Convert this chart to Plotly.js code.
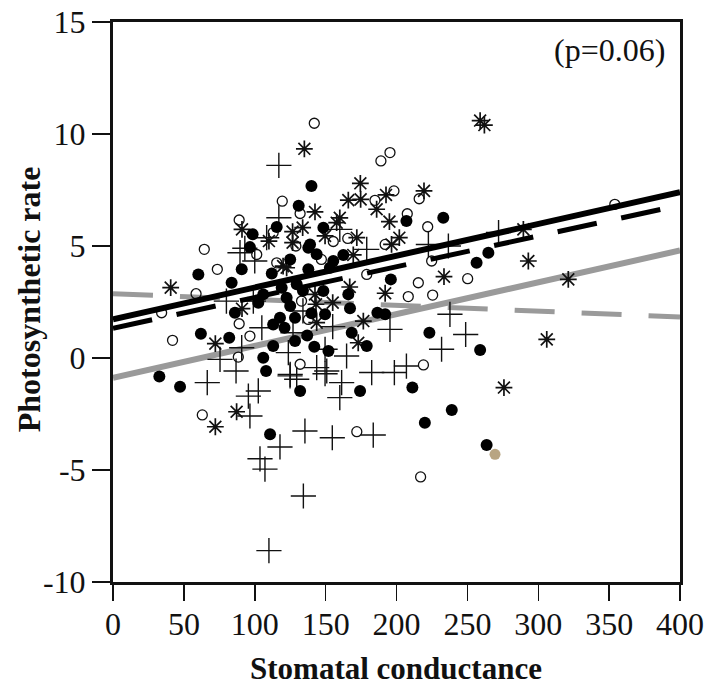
<!DOCTYPE html>
<html>
<head>
<meta charset="utf-8">
<script src="https://cdn.plot.ly/plotly-3.0.1.min.js"></script>
<style>html,body{margin:0;padding:0;background:#fff;}#chart{width:707px;height:686px;}</style>
</head>
<body>
<div id="chart"></div>
<script>
// Filled circles
const filledX = [32.7,47.3,62,60.2,83.7,90.8,86,82,96.6,98.5,115.5,131,140,108,110.8,132,102.5,113,125,125,128.4,106,112,137.8,153,148.4,129.6,119,149.6,117.8,121,113,106,122.5,128.4,152,148.4,137.8,143.7,155.4,139,162.5,207,233,264.8,256.5,196,166,167.2,186.5,192,223.2,168.4,179,259,174.3,211.2,239,220,263.6,134,140,137,142];
const filledY = [-0.83,-1.28,1.08,3.73,3.36,3.96,2.02,0.9,4.95,5.52,5.85,6.8,7.68,-0.58,-3.4,-1.47,2.47,1.5,4.4,2.32,0.76,0.01,3.77,3.96,4.03,2.99,3.29,3.14,1.95,1.8,1.35,0.54,2.84,2.69,1.8,0.31,5.82,4.92,4.63,4.33,5.07,4.6,6.12,6.26,4.7,4.25,3.51,2.84,2.22,2.02,1.95,1.13,1.13,0.54,0.36,-1.47,-1.32,-2.32,-2.89,-3.88,3.0,2.0,1.0,0.5];
// Single tan-coloured point
const tanX = [269.5];
const tanY = [-4.3];
// Open circles
const openX = [63,132,119.4,132,89,113,129,64.4,73.6,58.6,34.3,42,89,96.6,88.4,115.5,133,101.4,147,155.4,137.8,142,189,195.4,184.8,198.2,216,207.6,222,165.6,192,224.8,179,215.4,250.2,208.3,225.5,219,172,217,354];
const openY = [-2.54,-0.28,7.0,6.45,6.16,5.6,5.0,4.85,3.96,2.87,2.02,0.79,1.53,0.98,0.04,4.25,2.54,4.62,4.4,5.2,1.72,10.48,8.8,9.17,7.04,7.46,7.11,6.44,5.86,5.34,5.07,4.33,3.73,3.36,3.54,2.74,2.81,-0.31,-3.29,-5.31,6.86];
// Asterisks
const starX = [135,91,110,126.7,133.8,126.7,40.7,72.2,72.2,87.2,120,142.5,157.8,149.6,122.5,142.5,143.2,155,143.7,174.5,166,174.7,192.6,186,219.4,195,160,172,202,259,262,169.5,196.5,233.5,167,192,176.6,173,289.5,293,321.2,306,275.8,91];
const starY = [9.34,5.74,5.22,5.64,5.82,5.15,3.14,0.64,-3.07,-2.4,4.1,6.52,6.04,5.45,4.03,2.84,2.4,2.47,1.58,7.8,7.05,7.08,7.28,6.64,7.46,6.09,6.26,5.37,5.37,10.6,10.4,4.6,5.07,3.63,3.17,2.89,1.65,0.68,5.74,4.33,3.51,0.83,-1.32,2.2];
// Plus signs
const plusX = [117,117,108.4,93,89.6,100,80,90.8,75.5,86.8,105,125,66.5,95.5,102.5,96.6,117.8,103.7,107.2,124.9,129.6,135.4,134.3,110,99,127,134,123.7,143.7,150.8,155,160,179,222.5,236.6,237.7,248.8,231.8,195.4,164.8,149.6,182.5,198.5,207,160,161.3,149.6,154.7,183.6,272];
const plusY = [8.6,6.26,5.37,4.9,4.7,4.33,2.54,0.46,-0.06,-0.58,1.35,-0.73,-1.1,-1.7,-1.47,-2.59,-3.97,-4.5,-4.96,-0.8,-0.95,-3.26,-6.16,-8.6,2.54,1.13,2.1,0.24,-0.43,-0.58,1.4,5.74,4.85,5.07,5.0,1.95,1.05,0.39,1.28,0.09,0.39,-0.65,-0.65,-0.36,-1.77,-1.1,-0.7,-3.56,-3.44,5.6];
// Regression lines (end points)
const lineX = [0, 400];
const solidY = [1.73, 7.4];
const dashedY = [1.33, 6.82];
const grayRiseY = [-0.88, 4.8];
const grayFallY = [2.87, 1.83];
// Tick labels
const xTicks = [0,50,100,150,200,250,300,350,400];
const yTicks = [-10,-5,0,5,10,15];
const yTickText = ['-10','-5','0','5','10','15'];

const serif = 'Liberation Serif, Times New Roman, serif';

const traces = [
  {x: lineX, y: grayRiseY, mode:'lines', line:{color:'#9a9a9a', width:6}, hoverinfo:'skip'},
  {x: lineX, y: grayFallY, mode:'lines', line:{color:'#9a9a9a', width:5, dash:'40px,27px'}, hoverinfo:'skip'},
  {x: plusX, y: plusY, mode:'markers', marker:{symbol:'cross-thin-open', size:18, color:'#111', line:{color:'#111', width:1.4}}},
  {x: starX, y: starY, mode:'markers', marker:{symbol:'asterisk-open', size:14, color:'#111', line:{color:'#111', width:1.7}}},
  {x: openX, y: openY, mode:'markers', marker:{symbol:'circle-open', size:10, color:'#111', line:{color:'#111', width:1.3}}},
  {x: filledX, y: filledY, mode:'markers', marker:{symbol:'circle', size:12, color:'#000'}},
  {x: tanX, y: tanY, mode:'markers', marker:{symbol:'circle', size:11, color:'#b8a582'}},
  {x: lineX, y: dashedY, mode:'lines', line:{color:'#000', width:5, dash:'40px,25px'}, hoverinfo:'skip'},
  {x: lineX, y: solidY, mode:'lines', line:{color:'#000', width:6}, hoverinfo:'skip'}
];

const layout = {
  width: 707, height: 686,
  margin: {l:113, r:27, t:22, b:104},
  paper_bgcolor:'#ffffff', plot_bgcolor:'#ffffff',
  showlegend:false,
  font:{family: serif, color:'#111', size:22},
  xaxis:{
    range:[0,400], tickvals:xTicks, ticktext:xTicks.map(String),
    ticks:'outside', ticklen:16, tickwidth:1.5, tickcolor:'#111',
    ticklabelstandoff:-4,
    showline:true, linewidth:3, linecolor:'#111', mirror:true,
    showgrid:false, zeroline:false,
    tickfont:{family:serif, size:32, color:'#111'}
  },
  yaxis:{
    range:[-10,15], tickvals:yTicks, ticktext:yTickText,
    ticks:'outside', ticklen:18, tickwidth:1.5, tickcolor:'#111',
    showline:true, linewidth:3, linecolor:'#111', mirror:true,
    showgrid:false, zeroline:false,
    tickfont:{family:serif, size:32, color:'#111'}
  },
  annotations:[
    {x:350.5, y:13.75, xref:'x', yref:'y', text:'(p=0.06)', showarrow:false,
     font:{family:serif, size:32, color:'#111'}},
    {x:0.499, y:-0.1536, xref:'paper', yref:'paper', text:'<b>Stomatal conductance</b>', showarrow:false,
     xanchor:'center', yanchor:'middle', font:{family:serif, size:31, color:'#111'}},
    {x:-0.148, y:0.505, xref:'paper', yref:'paper', text:'<b>Photosynthetic rate</b>', showarrow:false,
     textangle:-90, xanchor:'center', yanchor:'middle', font:{family:serif, size:32, color:'#111'}}
  ]
};

Plotly.newPlot('chart', traces, layout, {displayModeBar:false, staticPlot:true});
</script>
</body>
</html>
